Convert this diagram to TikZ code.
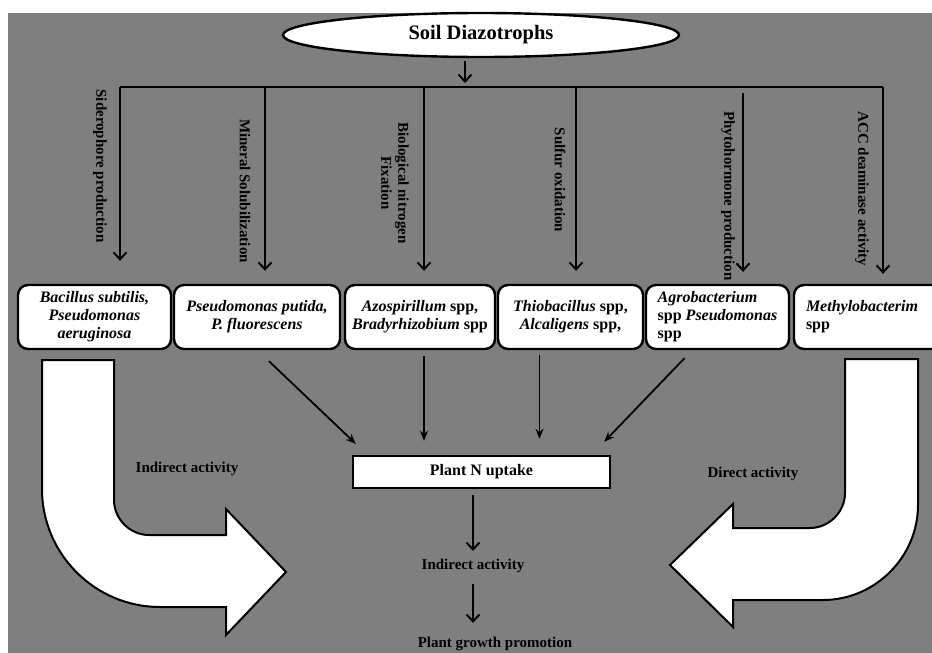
\documentclass[tikz,border=0pt]{standalone}
\usepackage{fontspec}
\setmainfont{Liberation Serif}
\usetikzlibrary{positioning, shapes.geometric, arrows.meta, calc}
\definecolor{bggrey}{RGB}{127,127,127}

\begin{document}
\begin{tikzpicture}[x=1pt, y=-1pt,
  orgbox/.style={draw, rectangle, rounded corners=10pt, fill=white, line width=2.4pt, minimum height=64pt, inner sep=2pt, font=\fontsize{16}{18}\selectfont\bfseries},
  actlabel/.style={rotate=-90, inner sep=0pt, font=\fontsize{15}{17}\selectfont\bfseries},
  plain/.style={inner sep=1pt, font=\fontsize{15}{17}\selectfont\bfseries},
  arr/.style={-{Straight Barb[length=7pt,width=13pt]}, line width=2pt},
  arrb/.style={-{Stealth[length=10pt,width=8pt]}, line width=1.8pt},
  bigarrow/.style={draw, fill=white, line width=2pt, line join=miter}]
  \useasboundingbox (0,0) rectangle (932,653);
  \fill[bggrey] (8,13) rectangle (932,653);

  % top of the tree
  \node[draw, ellipse, fill=white, line width=2.4pt, minimum width=396pt, minimum height=44pt, font=\fontsize{20.5}{24}\selectfont\bfseries] (soil) at (481,35) {Soil Diazotrophs};
  \coordinate (hub) at (465,87);
  \coordinate (c1) at (120,87);
  \coordinate (c2) at (265,87);
  \coordinate (c3) at (424,87);
  \coordinate (c4) at (576,87);
  \coordinate (c5) at (743,93);
  \coordinate (c6) at (883,87);
  \draw[arr, shorten <=3pt, shorten >=4pt] (soil.south -| hub) -- (hub);
  \draw[line width=2.2pt] (c1) -- (c6);

  % organisms
  \node[orgbox, minimum width=153pt, align=center] (bac) at (94.5,317) {\textit{Bacillus subtilis,}\\\textit{Pseudomonas}\\\textit{aeruginosa}};
  \node[orgbox, minimum width=166pt, align=center, right=0.6pt of bac] (pse) {\textit{Pseudomonas putida,}\\\textit{P. fluorescens}};
  \node[orgbox, minimum width=150pt, align=center, right=2.6pt of pse] (azo) {\textit{Azospirillum} spp,\\\textit{Bradyrhizobium} spp};
  \node[orgbox, minimum width=145pt, align=center, right=0.6pt of azo] (thio) {\textit{Thiobacillus} spp,\\\textit{Alcaligens} spp,};
  \node[orgbox, minimum width=143pt, align=left, right=0.6pt of thio] (agro) {\textit{Agrobacterium}\\spp \textit{Pseudomonas}\\spp};
  \node[orgbox, text width=125pt, inner xsep=12pt, align=left, right=2.6pt of agro] (methy) {\textit{Methylobacterim}\\spp};

  % activities
  \draw[arr, shorten >=23pt] (c1) -- (c1 |- bac.north);
  \draw[arr, shorten >=13pt] (c2) -- (c2 |- pse.north);
  \draw[arr, shorten >=13pt] (c3) -- (c3 |- azo.north);
  \draw[arr, shorten >=13pt] (c4) -- (c4 |- thio.north);
  \draw[arr, shorten >=12pt] (c5) -- (c5 |- agro.north);
  \draw[arr, shorten >=10pt] (c6) -- (c6 |- methy.north);
  \node[actlabel] (sid) at (100,166) {Siderophore production};
  \node[actlabel] (min) at (245,191) {Mineral Solubilization};
  \node[actlabel, align=center] (bnf) at (395,183) {Biological nitrogen\\Fixation};
  \node[actlabel] (sul) at (560,180) {Sulfur oxidation};
  \node[actlabel] (phy) at (728,196) {Phytohormone production};
  \node[actlabel] (acc) at (862,189) {ACC deaminase activity};

  % uptake and growth
  \node[draw, rectangle, fill=white, line width=2.4pt, minimum width=257pt, minimum height=32pt, font=\fontsize{16}{18}\selectfont\bfseries] (uptake) at (481.5,472) {Plant N uptake};
  \node[plain] (indir) at (473,566) {Indirect activity};
  \node[plain] (growth) at (495,644) {Plant growth promotion};
  \draw[arrb] ([xshift=12pt,yshift=-11pt]pse.south) -- ([xshift=4pt,yshift=11pt]uptake.north west);
  \draw[arrb, shorten <=6pt, shorten >=14pt] (c3 |- azo.south) -- (c3 |- uptake.north);
  \draw[arrb, shorten <=5pt, shorten >=16pt] ([xshift=-31pt]thio.south) -- ([xshift=-31pt]thio.south |- uptake.north);
  \draw[arrb] ([xshift=-33pt,yshift=-8pt]agro.south) -- ([xshift=-7pt,yshift=13pt]uptake.north east);
  \draw[arr, shorten <=6pt, shorten >=7pt] (uptake.south -| indir) -- (indir.north);
  \draw[arr, shorten <=10pt, shorten >=13pt] (indir.south) -- (indir.south |- growth.north);

  % big side arrows
  \draw[bigarrow] (42,360) -- (114,360) -- (114,500) .. controls (114,519) and (130,535) .. (149,535) -- (226,535) -- (226,509) -- (286,572) -- (226,635) -- (226,607) -- (160,607) .. controls (95,607) and (42,554) .. (42,489) -- cycle;
  \draw[bigarrow] (918,359) -- (845,359) -- (845,493) .. controls (845,512) and (829,528) .. (810,528) -- (733,528) -- (733,504) -- (670,565) -- (733,627) -- (733,600) -- (823,600) .. controls (875,600) and (918,557) .. (918,505) -- cycle;
  \node[plain] (indl) at (187,469) {Indirect activity};
  \node[plain] (dirr) at (753,474) {Direct activity};
\end{tikzpicture}
\end{document}
